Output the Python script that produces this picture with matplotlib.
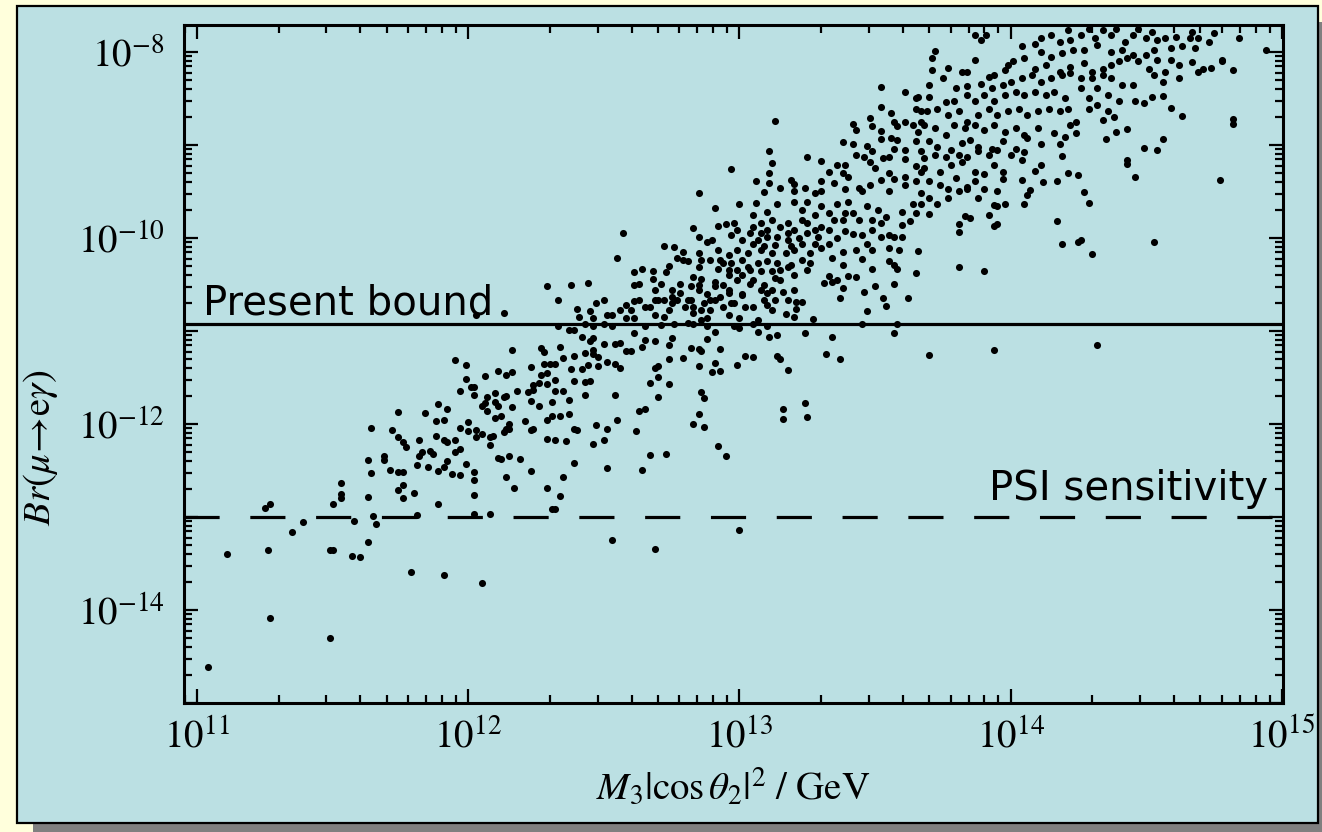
import numpy as np
import matplotlib
matplotlib.use("Agg")
import matplotlib.pyplot as plt
from matplotlib.patches import Rectangle
from matplotlib.ticker import LogLocator, FuncFormatter, NullFormatter

# ---------------- data: (log10 M3|cos theta2|^2 [GeV], log10 Br(mu->e gamma)) ----------------
low_mass_pts = [
    (11.04, -14.61), (11.11, -13.40), (11.26, -13.36), (11.27, -14.09), (11.25, -12.90), (11.27, -12.86),
    (11.35, -13.16), (11.39, -13.05), (11.49, -13.36), (11.50, -13.35), (11.49, -14.30), (11.50, -12.86),
    (11.53, -12.63), (11.53, -12.75), (11.53, -12.80), (11.57, -13.42), (11.60, -13.43), (11.58, -13.04),
    (11.63, -12.39), (11.64, -12.04), (11.64, -12.53), (11.63, -12.78), (11.63, -13.27), (11.65, -12.99),
    (11.66, -13.08), (11.69, -12.34), (11.69, -12.39), (11.71, -12.49), (11.74, -11.87), (11.72, -12.07),
    (11.74, -12.14), (11.76, -12.19), (11.77, -12.25), (11.74, -12.52), (11.76, -12.52), (11.74, -12.71),
    (11.76, -12.66), (11.76, -12.80), (11.79, -13.59), (11.80, -12.74), (11.81, -12.98), (11.81, -12.44),
    (11.82, -12.17), (11.82, -12.34), (11.83, -12.30), (11.86, -12.29), (11.87, -12.32), (11.84, -11.88),
    (11.85, -12.46), (11.88, -11.97), (11.88, -12.13), (11.89, -11.78), (11.89, -12.51), (11.89, -12.86),
    (11.91, -13.62), (11.91, -11.96), (11.92, -11.84), (11.91, -12.17), (11.92, -12.19), (11.92, -12.40),
    (11.91, -12.46), (11.94, -12.54), (11.95, -11.31), (11.95, -12.17), (11.95, -12.30), (11.97, -12.04),
    (11.97, -12.27), (11.97, -12.55), (11.97, -11.64), (11.99, -11.52), (11.99, -11.37), (11.99, -12.43),
    (12.00, -11.98), (12.00, -12.08), (12.01, -11.60), (12.02, -11.60), (12.02, -11.69), (12.02, -12.97),
    (12.02, -12.76), (12.02, -12.52), (12.02, -12.60), (12.03, -12.14), (12.03, -12.06), (12.05, -12.11),
    (12.05, -13.71), (12.06, -11.48), (12.05, -11.81), (12.06, -11.77), (12.07, -11.71), (12.10, -11.67),
    (12.10, -11.76), (12.11, -11.81), (12.07, -11.86), (12.08, -12.23), (12.08, -12.14), (12.09, -12.13),
    (12.08, -12.97), (12.10, -11.94), (12.12, -11.91), (12.11, -11.43), (12.11, -12.37), (12.12, -12.38),
    (12.13, -12.09), (12.14, -12.05), (12.15, -12.05), (12.14, -11.70), (12.13, -11.71), (12.14, -12.57),
    (12.14, -11.47), (12.16, -11.44), (12.15, -12.34), (12.16, -11.82), (12.16, -11.20), (12.15, -12.00),
    (12.17, -12.69), (12.18, -11.65), (12.19, -12.38), (12.21, -11.97), (12.22, -11.66), (12.24, -11.63),
    (12.24, -11.58), (12.26, -11.56), (12.23, -11.39), (12.23, -12.51), (12.23, -12.06), (12.24, -12.05),
    (12.23, -11.75), (12.26, -11.81), (12.27, -11.18), (12.28, -11.23), (12.28, -11.35), (12.30, -11.36),
    (12.29, -11.45), (12.27, -11.47), (12.29, -11.57), (12.29, -11.96), (12.31, -11.91), (12.29, -12.69),
    (12.29, -12.16), (12.31, -11.76), (12.31, -12.91), (12.03, -10.83), (12.13, -10.81), (12.29, -10.52),
]

mid_mass_pts = [
    (12.91, -9.68), (13.00, -9.64), (13.06, -9.62), (13.10, -9.72), (13.14, -9.64), (13.20, -9.61),
    (13.25, -9.61), (13.30, -9.66), (13.36, -9.63), (13.40, -9.61), (13.47, -9.66), (13.51, -9.70),
    (13.54, -9.77), (13.60, -9.72), (13.64, -9.64), (13.65, -9.73), (13.67, -9.63), (13.05, -9.75),
    (13.08, -9.84), (13.12, -9.81), (13.18, -9.84), (13.23, -9.70), (13.28, -9.75), (13.33, -9.73),
    (13.38, -9.81), (13.42, -9.73), (13.49, -9.81), (13.52, -9.84), (13.60, -9.86), (13.63, -9.82),
    (12.92, -9.87), (12.95, -9.85), (12.98, -9.84), (12.99, -9.91), (12.83, -9.89), (12.57, -9.95),
    (12.85, -9.99), (12.88, -10.04), (12.90, -10.02), (12.92, -10.13), (12.97, -9.97), (13.01, -10.02),
    (13.04, -9.95), (13.07, -10.02), (13.10, -9.99), (13.13, -10.08), (13.18, -10.02), (13.22, -10.00),
    (13.25, -9.95), (13.29, -9.99), (13.33, -10.06), (13.36, -10.00), (13.39, -9.93), (13.42, -9.96),
    (13.45, -9.97), (13.49, -9.91), (13.52, -9.99), (13.55, -9.97), (13.57, -9.99), (13.60, -9.99),
    (13.47, -10.06), (13.43, -10.13), (13.49, -10.13), (13.55, -10.11), (13.59, -10.13), (13.66, -10.14),
    (12.72, -10.09), (12.76, -10.10), (12.79, -10.15), (12.77, -10.22), (12.79, -10.24), (12.81, -10.25),
    (12.85, -10.16), (12.86, -10.24), (12.89, -10.24), (12.96, -10.18), (12.99, -10.13), (13.03, -10.16),
    (13.08, -10.13), (13.12, -10.16), (13.17, -10.16), (13.20, -10.13), (13.26, -10.16), (13.30, -10.11),
    (13.34, -10.22), (13.38, -10.15), (13.45, -10.23), (12.55, -10.21),
    (12.94, -10.27), (12.92, -10.33), (12.96, -10.34), (12.99, -10.34), (13.03, -10.31), (13.07, -10.27),
    (13.10, -10.25), (13.14, -10.27), (13.18, -10.31), (13.25, -10.34), (13.38, -10.29), (13.40, -10.41),
    (13.43, -10.42), (13.49, -10.33), (13.55, -10.25), (13.57, -10.29), (13.58, -10.33), (13.65, -10.38),
    (13.33, -10.41), (13.36, -10.45), (13.31, -10.48), (13.34, -10.47), (12.61, -10.37), (12.64, -10.33),
    (12.68, -10.36), (12.73, -10.37), (12.74, -10.30), (12.85, -10.31), (12.83, -10.42), (12.86, -10.44),
    (12.85, -10.51), (12.91, -10.47), (12.94, -10.51), (12.96, -10.56), (12.99, -10.45), (13.05, -10.45),
    (13.09, -10.51), (13.13, -10.43), (13.15, -10.45), (13.20, -10.40), (13.20, -10.56), (12.63, -10.49),
    (12.61, -10.51), (12.68, -10.44), (12.71, -10.49), (12.75, -10.56), (12.78, -10.49), (12.82, -10.52),
    (12.69, -10.56), (12.85, -10.56), (12.88, -10.60), (12.91, -10.52), (12.96, -10.59), (13.01, -10.60),
    (13.10, -10.59), (13.16, -10.58), (13.38, -10.54), (13.50, -10.52), (13.57, -10.49), (13.46, -10.58),
    (13.53, -10.65), (13.62, -10.64), (13.37, -10.65), (12.38, -10.51), (12.44, -10.48),
    (12.33, -10.67), (12.40, -10.76), (12.41, -10.85), (12.45, -10.79), (12.47, -10.70), (12.50, -10.67),
    (12.51, -10.83), (12.53, -10.83), (12.58, -10.72), (12.58, -10.86), (12.61, -10.68), (12.63, -10.67),
    (12.67, -10.74), (12.69, -10.83), (12.70, -10.67), (12.72, -10.85), (12.74, -10.77), (12.75, -10.70),
    (12.77, -10.67), (12.80, -10.74), (12.82, -10.67), (12.83, -10.81), (12.86, -10.88), (12.88, -10.86),
    (12.89, -10.77), (12.91, -10.67), (12.94, -10.74), (12.96, -10.83), (12.98, -10.70), (13.00, -10.86),
    (13.02, -10.74), (13.01, -10.61), (13.07, -10.88), (13.09, -10.67), (13.10, -10.72), (13.13, -10.67),
    (13.17, -10.82), (13.20, -10.85), (13.21, -10.69), (13.21, -10.76), (13.23, -10.69), (13.27, -10.87),
    (13.47, -10.79), (13.54, -10.73), (12.46, -10.86), (12.50, -10.92), (12.61, -10.86), (12.65, -10.95),
    (12.71, -10.94), (12.76, -10.92), (12.81, -10.91), (12.83, -10.93), (12.88, -10.95), (12.98, -10.95),
    (13.00, -10.97), (13.05, -10.93), (13.10, -10.95), (12.33, -10.95),
    (12.37, -10.99), (12.42, -11.07), (12.45, -11.11), (12.46, -11.08), (12.50, -11.14), (12.46, -11.20),
    (12.54, -11.14), (12.56, -11.13), (12.58, -11.22), (12.60, -11.22), (12.61, -11.02), (12.64, -11.17),
    (12.65, -11.10), (12.69, -11.11), (12.74, -11.15), (12.75, -11.08), (12.82, -11.18), (12.85, -11.19),
    (12.86, -11.21), (12.88, -11.09), (12.91, -11.01), (12.93, -11.19), (13.07, -11.01), (13.11, -11.07),
    (13.14, -11.04), (13.24, -11.02), (13.34, -11.07), (13.45, -10.93), (13.58, -10.93), (13.57, -11.02),
    (12.34, -11.17), (12.39, -11.27), (12.35, -11.29), (12.43, -11.24), (12.46, -11.25), (12.48, -11.28),
    (12.51, -11.33), (12.54, -11.35), (12.56, -11.40), (12.44, -11.37), (12.42, -11.41), (12.38, -11.41),
    (12.48, -11.38), (12.74, -11.30), (12.79, -11.29), (12.85, -11.38), (12.91, -11.34), (12.99, -11.37),
    (13.02, -11.27), (13.05, -11.28), (13.14, -11.27), (13.15, -11.30), (13.32, -11.25), (13.37, -11.30),
    (12.32, -11.35),
    (12.32, -11.53), (12.39, -11.54), (12.43, -11.55), (12.45, -11.54), (12.35, -11.65), (12.37, -11.74),
    (12.32, -11.65), (12.34, -11.91), (12.37, -11.89), (12.43, -11.69), (12.54, -11.69), (12.69, -11.40),
    (12.70, -11.38), (12.70, -11.49), (12.67, -11.56), (12.74, -11.57), (12.70, -11.71), (12.63, -11.86),
    (12.65, -11.84), (12.90, -11.44), (12.93, -11.43), (13.18, -11.42), (12.86, -11.66), (12.87, -11.72),
    (12.85, -11.89), (12.83, -12.00), (12.87, -12.03), (13.16, -11.84), (13.16, -11.95), (13.24, -11.77),
    (13.25, -11.92), (12.32, -12.17), (12.36, -12.18), (12.39, -12.05), (12.40, -12.06), (12.47, -12.01),
    (12.51, -12.05), (12.55, -11.96), (12.46, -12.22), (12.50, -12.17), (12.62, -12.08),
    (12.39, -12.42), (12.35, -12.57), (12.34, -12.77), (12.32, -12.91), (12.51, -12.47), (12.64, -12.49),
    (12.67, -12.33), (12.73, -12.32), (12.92, -12.24), (12.95, -12.34), (13.00, -13.14), (12.53, -13.25),
    (12.69, -13.34),
    (13.05, -9.88), (13.08, -9.95), (13.10, -9.91), (13.15, -9.88), (13.18, -9.95), (13.20, -9.91),
    (13.23, -9.81), (13.25, -9.84), (13.28, -9.91), (13.30, -9.88), (13.05, -10.06), (13.09, -10.09),
    (13.14, -9.99), (13.19, -10.09), (13.23, -10.06), (13.28, -10.06), (13.33, -9.91), (13.35, -9.81),
    (13.39, -9.73), (13.44, -9.81), (12.93, -10.24), (12.97, -10.27), (13.01, -10.24), (13.04, -10.34),
    (13.08, -10.36), (13.12, -10.36), (13.15, -10.34), (13.19, -10.29), (13.23, -10.24), (13.26, -10.27),
    (12.96, -10.40), (13.01, -10.40), (13.04, -10.49), (13.08, -10.56), (13.12, -10.56), (12.93, -10.63),
    (12.97, -10.70), (12.89, -10.67), (12.87, -10.70), (12.75, -10.63), (12.78, -10.59), (12.81, -10.67),
    (12.72, -10.67), (12.69, -10.67), (12.65, -10.74), (12.60, -10.77), (12.56, -10.77), (12.53, -10.95),
    (12.46, -10.95), (12.43, -10.92), (12.39, -10.99), (12.86, -10.77), (12.83, -10.74), (13.05, -10.74),
    (13.12, -10.77), (13.18, -10.67),
]

upper_mid_pts = [
    (13.52, -8.38), (13.61, -8.43), (13.52, -8.59), (13.65, -8.50), (13.66, -8.48), (13.65, -8.61),
    (13.67, -8.64), (13.48, -8.71), (13.42, -8.77), (13.43, -8.84), (13.49, -8.80), (13.52, -8.85),
    (13.56, -8.66), (13.57, -8.75), (13.58, -8.80), (13.61, -8.75), (13.64, -8.79), (13.66, -8.86),
    (13.67, -8.75), (13.38, -8.97), (13.42, -8.99), (13.47, -9.01), (13.49, -9.06), (13.52, -8.94),
    (13.56, -8.93), (13.58, -8.95), (13.57, -9.04), (13.61, -9.05), (13.65, -8.96), (13.67, -9.07),
    (13.13, -8.74), (13.11, -9.06), (13.12, -9.19), (13.11, -9.30), (13.06, -9.39), (13.11, -9.41),
    (13.09, -9.51), (12.97, -9.26), (12.85, -9.52), (13.25, -9.13), (13.30, -9.17), (13.33, -9.29),
    (13.36, -9.21), (13.39, -9.22), (13.40, -9.34), (13.38, -9.30), (13.43, -9.11), (13.46, -9.13),
    (13.48, -9.18), (13.50, -9.25), (13.53, -9.14), (13.55, -9.13), (13.61, -9.15), (13.65, -9.23),
    (13.67, -9.29), (13.55, -9.30), (13.57, -9.37), (13.61, -9.34), (13.65, -9.39), (13.19, -9.38),
    (13.20, -9.42), (13.24, -9.46), (13.15, -9.46), (13.20, -9.50), (13.28, -9.52), (13.30, -9.39),
    (13.35, -9.41), (13.39, -9.47), (13.44, -9.46), (13.48, -9.43), (13.52, -9.38), (13.55, -9.50),
    (13.61, -9.43), (13.67, -9.52), (13.45, -9.50), (13.30, -9.50),
]

high_mass_pts = [
    (13.87, -7.82), (13.89, -7.87), (13.91, -7.82), (14.04, -7.94), (14.09, -7.91), (14.11, -7.85),
    (14.15, -7.82), (14.18, -7.89), (14.21, -7.76), (14.22, -7.87), (14.26, -7.82), (14.29, -7.75),
    (14.31, -7.85), (14.34, -7.76), (14.37, -7.82), (14.39, -7.75), (14.42, -7.89), (14.45, -7.82),
    (14.47, -7.75), (14.50, -7.85), (14.52, -7.78), (14.54, -7.87), (14.57, -7.85), (14.61, -7.84),
    (14.66, -7.85), (14.67, -7.78), (14.69, -7.85), (14.73, -7.89), (14.75, -7.80), (14.84, -7.85),
    (14.94, -7.98), (13.72, -7.99), (13.71, -8.07), (13.87, -8.09), (14.11, -8.00), (14.15, -8.05),
    (14.19, -8.01), (14.23, -7.98), (14.27, -7.98), (14.32, -7.93), (14.37, -8.00), (14.41, -7.98),
    (14.45, -8.03), (14.50, -8.03), (14.53, -7.98), (14.54, -8.09), (14.59, -7.96), (14.63, -7.94),
    (14.68, -7.96), (14.59, -8.09), (14.62, -8.14), (14.67, -8.11), (14.78, -8.09), (13.71, -8.19),
    (13.77, -8.17), (13.82, -8.21), (13.84, -8.22), (13.94, -8.25), (13.92, -8.27), (13.99, -8.14),
    (14.01, -8.10), (14.05, -8.07), (13.98, -8.19), (14.09, -8.18), (14.13, -8.14), (14.18, -8.21),
    (14.22, -8.16), (14.27, -8.12), (14.30, -8.21), (14.34, -8.18), (14.37, -8.14), (14.40, -8.10),
    (14.43, -8.07), (14.47, -8.10), (14.51, -8.18), (14.53, -8.25), (14.57, -8.21), (14.62, -8.28),
    (14.69, -8.21), (14.71, -8.18), (14.74, -8.17), (14.78, -8.10), (14.82, -8.19),
    (13.70, -8.35), (13.75, -8.28), (13.80, -8.39), (13.84, -8.37), (13.89, -8.34), (13.93, -8.39),
    (13.97, -8.36), (14.00, -8.32), (14.04, -8.28), (14.08, -8.25), (14.11, -8.32), (14.15, -8.28),
    (14.19, -8.25), (14.22, -8.23), (14.26, -8.28), (14.30, -8.28), (14.34, -8.25), (14.37, -8.28),
    (14.41, -8.35), (14.45, -8.35), (14.56, -8.32), (13.70, -8.48), (13.76, -8.54), (13.79, -8.53),
    (13.84, -8.46), (13.87, -8.53), (13.90, -8.46), (13.94, -8.53), (13.98, -8.46), (14.02, -8.43),
    (14.05, -8.46), (14.09, -8.43), (14.13, -8.46), (14.16, -8.43), (14.20, -8.50), (14.26, -8.39),
    (14.29, -8.50), (14.32, -8.39), (14.36, -8.46), (14.40, -8.53), (14.46, -8.53), (14.49, -8.55),
    (14.52, -8.48), (14.56, -8.47), (14.59, -8.60), (14.63, -8.69), (13.69, -8.64), (13.73, -8.61),
    (13.77, -8.68), (13.81, -8.64), (13.84, -8.75), (13.88, -8.68), (13.92, -8.61), (13.95, -8.68),
    (13.99, -8.64), (14.03, -8.61), (14.06, -8.68), (14.10, -8.64), (14.14, -8.61), (14.18, -8.64),
    (14.21, -8.61), (14.24, -8.75), (14.29, -8.61), (14.32, -8.57), (14.36, -8.64), (14.38, -8.70),
    (14.34, -8.73), (14.43, -8.83), (14.39, -8.86), (14.35, -8.94), (14.22, -8.78), (14.82, -8.72),
    (14.82, -8.77),
    (13.68, -8.79), (13.72, -8.82), (13.76, -8.89), (13.79, -8.79), (13.83, -8.82), (13.87, -8.79),
    (13.90, -8.84), (13.94, -8.79), (13.98, -8.86), (14.02, -8.82), (14.05, -8.89), (14.10, -8.82),
    (14.16, -8.87), (14.20, -8.91), (14.24, -8.87), (13.70, -8.96), (13.73, -9.02), (13.78, -9.05),
    (13.82, -8.98), (13.85, -8.95), (13.88, -9.02), (13.93, -9.04), (13.97, -8.96), (14.02, -9.04),
    (14.06, -8.93), (14.11, -8.99), (14.18, -8.99), (13.68, -9.14), (13.72, -9.11), (13.76, -9.13),
    (13.81, -9.11), (13.84, -9.13), (13.88, -9.07), (13.92, -9.11), (13.95, -9.05), (14.00, -9.11),
    (14.04, -9.16), (14.05, -9.08), (14.19, -9.12), (14.49, -9.03), (14.54, -9.05), (14.56, -8.94),
    (14.43, -9.16), (14.43, -9.20), (13.68, -9.25), (13.74, -9.29), (13.78, -9.22), (13.82, -9.18),
    (13.87, -9.29), (13.90, -9.31), (13.94, -9.22), (13.97, -9.29), (13.97, -9.37), (14.09, -9.28),
    (14.11, -9.22), (14.21, -9.30), (14.25, -9.32), (14.46, -9.34), (14.77, -9.38),
    (13.70, -9.39), (13.74, -9.43), (13.77, -9.47), (13.80, -9.36), (13.84, -9.45), (13.87, -9.39),
    (13.90, -9.47), (13.95, -9.50), (13.70, -9.57), (13.73, -9.63), (13.77, -9.57), (13.81, -9.50),
    (13.84, -9.47), (13.88, -9.57), (13.94, -9.65), (13.95, -9.66), (13.98, -9.63), (14.04, -9.38),
    (14.07, -9.48), (14.06, -9.54), (14.05, -9.64), (14.12, -9.40), (14.17, -9.39), (14.27, -9.51),
    (14.29, -9.62), (13.70, -9.74), (13.83, -9.76), (13.85, -9.78), (13.92, -9.75), (13.94, -9.87),
    (13.95, -9.85), (13.81, -9.85), (13.81, -9.94), (14.17, -9.82), (14.19, -10.06), (14.25, -10.04),
    (14.26, -10.02), (14.30, -10.17), (14.53, -10.04), (13.81, -10.31), (13.90, -10.36),
    (13.70, -11.26), (13.94, -11.20), (14.32, -11.15),
]

present_bound = 1.2e-11   # MEGA
psi_sensitivity = 1.0e-13
label_present = "Present bound"
label_psi = "PSI sensitivity"

# ---------------- styling ----------------
plt.rcParams["mathtext.fontset"] = "stix"
plt.rcParams["font.family"] = ["STIXGeneral", "DejaVu Serif"]

W, H = 1322, 832
fig = plt.figure(figsize=(W / 100, H / 100), dpi=100)
fig.patch.set_facecolor("#FFFFDC")

# shadow + panel
fig.add_artist(Rectangle((33 / W, (H - 845) / H), (1345 - 33) / W, (845 - 22) / H,
                         transform=fig.transFigure, facecolor="#808080", edgecolor="none", zorder=0))
fig.add_artist(Rectangle((17 / W, (H - 823) / H), (1318 - 17) / W, (823 - 6) / H,
                         transform=fig.transFigure, facecolor="#BBE0E3", edgecolor="black",
                         linewidth=1.6, zorder=0.5))

ax = fig.add_axes([184 / W, (H - 703) / H, 1099 / W, 678 / H])
ax.set_facecolor("none")
ax.set_zorder(2)

pts = np.array(low_mass_pts + mid_mass_pts + upper_mid_pts + high_mass_pts)
ax.scatter(10 ** pts[:, 0], 10 ** pts[:, 1], s=26, c="black", linewidths=0, zorder=3)

ax.axhline(present_bound, color="black", lw=2.3, zorder=2)
ax.axhline(psi_sensitivity, color="black", lw=2.3, dashes=(11.0, 9.6), zorder=2,
           solid_capstyle="butt", dash_capstyle="butt")

ax.set_xscale("log")
ax.set_yscale("log")
ax.set_xlim(10 ** 10.952, 10 ** 15.004)
ax.set_ylim(1e-15, 10 ** -7.71)

for axis in (ax.xaxis, ax.yaxis):
    axis.set_major_locator(LogLocator(base=10, numticks=30))
    axis.set_minor_locator(LogLocator(base=10, subs=np.arange(2, 10), numticks=300))
    axis.set_minor_formatter(NullFormatter())

ax.xaxis.set_major_formatter(FuncFormatter(lambda v, p: r"$10^{%d}$" % round(np.log10(v))))


def yfmt(v, p):
    e = int(round(np.log10(v)))
    return r"$10^{%d}$" % e if e % 2 == 0 else ""


ax.yaxis.set_major_formatter(FuncFormatter(yfmt))

ax.tick_params(which="both", direction="in", top=True, right=True, width=1.6, colors="black")
ax.tick_params(which="major", length=10, labelsize=28)
ax.tick_params(which="minor", length=5.5)
ax.tick_params(axis="x", which="major", pad=11)
ax.tick_params(axis="y", which="major", pad=14)
for s in ax.spines.values():
    s.set_linewidth(2.2)

ax.set_xlabel(r"$M_3|\cos\theta_2|^2\ /\ \mathrm{GeV}$", fontsize=28)
ax.xaxis.set_label_coords(0.5, -0.124)
ax.xaxis.label.set_va("center")
ax.set_ylabel(r"$Br(\mu\!\rightarrow\!\mathrm{e}\gamma)$", fontsize=28)
ax.yaxis.set_label_coords(-0.131, 0.377)
ax.yaxis.label.set_va("center")

ax.text(10 ** 11.022, 1.52e-11, label_present, fontsize=29, family=["DejaVu Sans"],
        ha="left", va="baseline", zorder=4)
ax.text(10 ** 14.948, 1.52e-13, label_psi, fontsize=29, family=["DejaVu Sans"],
        ha="right", va="baseline", zorder=4)

fig.savefig("out.png", dpi=100, facecolor=fig.get_facecolor())
